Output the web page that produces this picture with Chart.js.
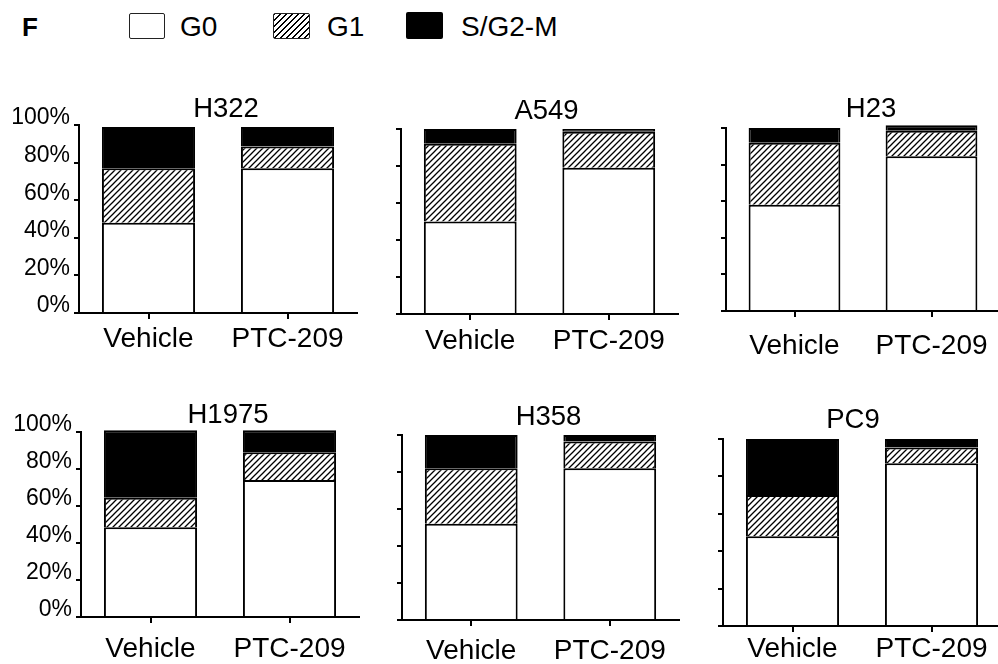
<!DOCTYPE html>
<html>
<head>
<meta charset="utf-8">
<script src="https://cdn.jsdelivr.net/npm/chart.js@4.4.1/dist/chart.umd.min.js"></script>
<style>
  html, body { margin: 0; padding: 0; background: #fff; overflow: hidden; }
  #page { position: relative; width: 998px; height: 664px; overflow: hidden;
          font-family: "Liberation Sans", Arial, sans-serif; color: #000; }
  #page canvas { position: absolute; }
  .lbl { position: absolute; font-size: 28px; line-height: 1; white-space: nowrap; }
  .sw { position: absolute; box-sizing: border-box; }
</style>
</head>
<body>
<div id="page">
  <div class="lbl" style="left:22px;top:14px;font-weight:bold;font-size:26px">F</div>
  <div class="sw" style="left:129px;top:13px;width:36px;height:26px;border:1.5px solid #222;border-radius:2px;background:#fff"></div>
  <div class="lbl" style="left:180px;top:13px">G0</div>
  <div class="sw" style="left:273px;top:13px;width:37px;height:26px;border:1.5px solid #222;border-radius:2px;background:repeating-linear-gradient(135deg,#000 0 1.3px,#fff 1.3px 4.24px)"></div>
  <div class="lbl" style="left:327px;top:13px">G1</div>
  <div class="sw" style="left:406px;top:12px;width:37px;height:27px;border-radius:2px;background:#000"></div>
  <div class="lbl" style="left:461px;top:13px">S/G2-M</div>
</div>
<script>
// Cell-cycle distribution (% of cells) per cell line, Vehicle vs PTC-209
const cellLines = ['H322', 'A549', 'H23', 'H1975', 'H358', 'PC9'];
const treatments = ['Vehicle', 'PTC-209'];
const phaseNames = ['G0', 'G1', 'S/G2-M'];
const g0Pct   = [[48, 77], [50, 79], [58, 84.5], [48.5, 74], [52, 82], [48, 87]];
const g1Pct   = [[29, 11.5], [42, 19.5], [34, 14], [16, 15], [30, 14.5], [22, 8.5]];
const sg2mPct = [[22, 10.5], [8, 1.5], [8, 3], [36.5, 12], [18, 3.5], [30, 4.5]];
const yTicks = [0, 20, 40, 60, 80, 100];
const yTickLabels = ['0%', '20%', '40%', '60%', '80%', '100%'];

// Plot-area placement of each panel on the page (left, top, right, bottom in px)
const panelBoxes = [
  { l: 79,  t: 125, r: 357,  b: 313, axisW: 79, xPad: 3,  titleDx: 8,  titleGap: 8 },
  { l: 401, t: 129, r: 678,  b: 314, axisW: 20, xPad: 4,  titleDx: 7,  titleGap: 10 },
  { l: 726, t: 128, r: 1000, b: 311, axisW: 20, xPad: 12, titleDx: 8,  titleGap: 11 },
  { l: 81,  t: 432, r: 359,  b: 617, axisW: 81, xPad: 9,  titleDx: 8,  titleGap: 9 },
  { l: 402, t: 435, r: 679,  b: 620, axisW: 20, xPad: 8,  titleDx: 8,  titleGap: 10 },
  { l: 723, t: 439, r: 1001, b: 626, axisW: 20, xPad: 0,  titleDx: -9, titleGap: 11 }
];

const FONT = '"Liberation Sans", Arial, sans-serif';
Chart.defaults.font.family = FONT;
Chart.defaults.color = '#000';

// Diagonal "/" hatch fill for the G1 segments
const hatch = (() => {
  const s = 6, c = document.createElement('canvas');
  c.width = c.height = s;
  const x = c.getContext('2d');
  x.fillStyle = '#fff'; x.fillRect(0, 0, s, s);
  x.strokeStyle = '#000'; x.lineWidth = 1.3;
  x.beginPath();
  x.moveTo(0, s); x.lineTo(s, 0);
  x.moveTo(-s / 2, s / 2); x.lineTo(s / 2, -s / 2);
  x.moveTo(s / 2, s * 1.5); x.lineTo(s * 1.5, s / 2);
  x.stroke();
  return x.createPattern(c, 'repeat');
})();

// Panel heading drawn above the plot area
const panelTitle = {
  id: 'panelTitle',
  afterDraw(chart, _args, o) {
    const { ctx, chartArea: a } = chart;
    ctx.save();
    ctx.font = o.size + 'px ' + FONT;
    ctx.fillStyle = '#000';
    ctx.textAlign = 'center';
    ctx.textBaseline = 'alphabetic';
    ctx.fillText(o.text, (a.left + a.right) / 2 + o.dx, a.top - o.gap);
    ctx.restore();
  }
};

const page = document.getElementById('page');
const TOP = 44, XH = 52, RP = 4;

cellLines.forEach((name, i) => {
  const g = panelBoxes[i];
  const w = g.r - g.l + g.axisW + RP;
  const h = g.b - g.t + TOP + XH;
  const cv = document.createElement('canvas');
  cv.width = w; cv.height = h;
  cv.style.left = (g.l - g.axisW) + 'px';
  cv.style.top = (g.t - TOP) + 'px';
  cv.style.width = w + 'px';
  cv.style.height = h + 'px';
  page.appendChild(cv);

  const showLabels = i % 3 === 0;
  new Chart(cv, {
    type: 'bar',
    data: {
      labels: treatments,
      datasets: [
        { label: phaseNames[0], data: g0Pct[i],   backgroundColor: '#fff' },
        { label: phaseNames[1], data: g1Pct[i],   backgroundColor: hatch },
        { label: phaseNames[2], data: sg2mPct[i], backgroundColor: '#000' }
      ]
    },
    options: {
      responsive: false,
      animation: false,
      devicePixelRatio: 1,
      layout: { padding: { top: TOP, right: RP, left: 0, bottom: 0 } },
      datasets: {
        bar: {
          borderColor: '#000',
          borderWidth: { top: 2, bottom: 0, left: 2, right: 2 },
          borderSkipped: false,
          barPercentage: 0.67,
          categoryPercentage: 1,
          clip: false
        }
      },
      plugins: {
        legend: { display: false },
        tooltip: { enabled: false },
        panelTitle: { text: name, size: 27.5, dx: g.titleDx, gap: g.titleGap }
      },
      scales: {
        x: {
          stacked: true,
          offset: true,
          grid: { display: true, offset: false, drawOnChartArea: false, drawTicks: true,
                  tickLength: 6, color: '#000', lineWidth: 2 },
          border: { display: true, color: '#000', width: 2 },
          ticks: { font: { size: 28 }, color: '#000', padding: g.xPad, maxRotation: 0, autoSkip: false },
          afterFit(s) { s.height = XH; }
        },
        y: {
          stacked: true,
          min: 0,
          max: 100,
          afterBuildTicks(s) { s.ticks = yTicks.map(v => ({ value: v })); },
          grid: { display: true, drawOnChartArea: false, drawTicks: true,
                  tickLength: 5, color: '#000', lineWidth: 2 },
          border: { display: true, color: '#000', width: 2 },
          ticks: {
            display: showLabels,
            font: { size: 23 },
            color: '#000',
            padding: 4,
            labelOffset: -7,
            callback: v => yTickLabels[yTicks.indexOf(v)]
          },
          afterFit(s) { s.width = g.axisW; }
        }
      }
    },
    plugins: [panelTitle]
  });
});
</script>
</body>
</html>
